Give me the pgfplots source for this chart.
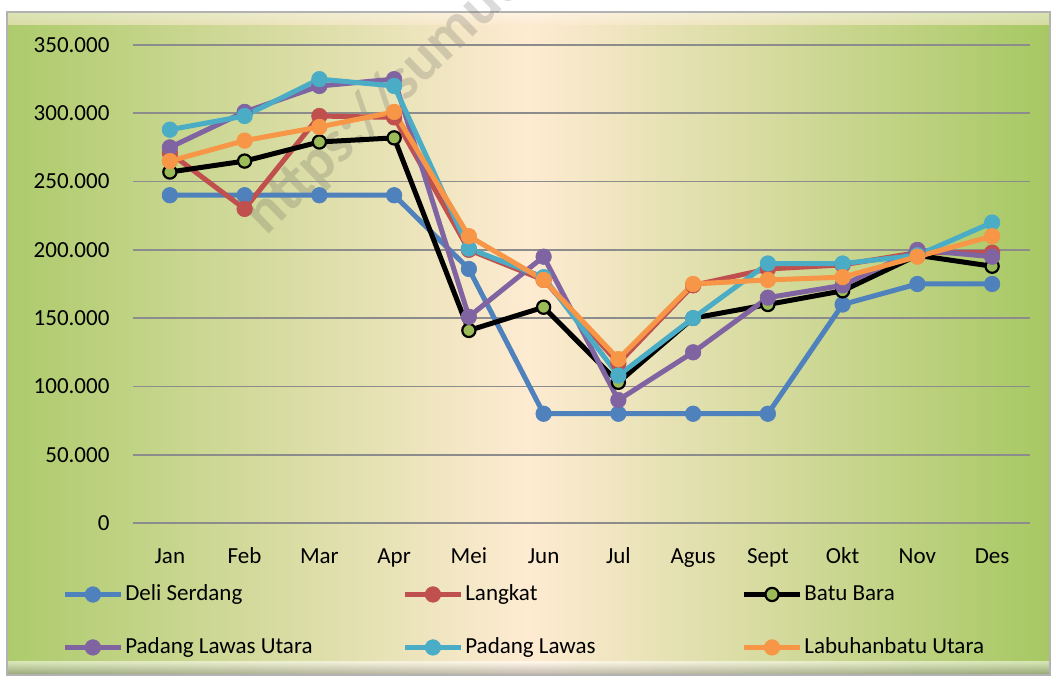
\documentclass[border=0pt]{standalone}
\usepackage{pgfplots}
\pgfplotsset{compat=1.18}
\usepackage{fontspec}
\setmainfont{Carlito}
\definecolor{cDeli}{HTML}{4F81BD}
\definecolor{cLang}{HTML}{C0504D}
\definecolor{cBatu}{HTML}{9BBB59}
\definecolor{cPLU}{HTML}{8064A2}
\definecolor{cPL}{HTML}{4BACC6}
\definecolor{cLab}{HTML}{F79646}
\definecolor{gEdgeL}{HTML}{ADCB6C}
\definecolor{gEdgeR}{HTML}{A6C862}
\definecolor{gMid}{HTML}{FEEBD2}
\definecolor{gridc}{HTML}{8C8C8C}
\begin{document}
\begin{tikzpicture}
\begin{scope}[x=0.5pt,y=0.5pt]
\path[use as bounding box] (0,0) rectangle (1056,680);
\shade[left color=gEdgeL, right color=gEdgeR, middle color=gMid] (7,5) rectangle (1050,668);
\shade[top color=white!70!gMid, bottom color=gMid, opacity=0.55] (7,655) rectangle (1050,668);
\shade[top color=black!0, bottom color=black!50, opacity=0.5] (7,5) rectangle (1050,18);
\draw[gray!60, line width=0.6pt] (7,5) rectangle (1050,668);
\begin{scope}
\clip (0,0) rectangle (1056,680);
\node[rotate=44, text=gray!70!black, opacity=0.22, font=\fontsize{30}{32}\selectfont\bfseries, anchor=west] at (250,450) {https://sumut};
\end{scope}
\end{scope}
\begin{axis}[
  at={(66.25pt,78.5pt)}, anchor=south west,
  scale only axis, width=448.5pt, height=239pt,
  xmin=-0.5, xmax=11.5, ymin=0, ymax=350000,
  axis line style={draw=none}, tick style={draw=none},
  ymajorgrids, major grid style={gridc, line width=0.8pt},
  xtick={0,...,11},
  xticklabels={Jan,Feb,Mar,Apr,Mei,Jun,Jul,Agus,Sept,Okt,Nov,Des},
  ytick={0,50000,100000,150000,200000,250000,300000,350000},
  yticklabels={0,50.000,100.000,150.000,200.000,250.000,300.000,350.000},
  scaled y ticks=false,
  ticklabel style={font=\fontsize{11.5}{13}\selectfont, text=black},
  yticklabel style={anchor=east, xshift=-8pt},
  xticklabel style={anchor=center, yshift=-17.5pt, text height=1.6ex, text depth=0.4ex},
  clip=false,
  legend columns=3,
  legend cell align=left,
  legend style={draw=none, fill=none, inner sep=0pt, outer sep=0pt,
    at={(axis description cs:0,0)}, anchor=north west, xshift=-35pt, yshift=-29pt,
    font=\fontsize{11.5}{13}\selectfont, row sep=13pt,
    nodes={inner xsep=1pt},
    /tikz/column 2/.style={column sep=44pt},
    /tikz/column 4/.style={column sep=72pt}},
  legend image code/.code={\draw[mark repeat=2, mark phase=2] plot coordinates {(0cm,0cm)(0.49cm,0cm)(0.98cm,0cm)};},
  every axis plot/.append style={line width=2.5pt, mark=*, mark size=3.9pt},
]
\addplot[cDeli, mark options={solid, line width=0.3pt, fill=cDeli, draw=cDeli}] coordinates {(0,240000)(1,240000)(2,240000)(3,240000)(4,186000)(5,80000)(6,80000)(7,80000)(8,80000)(9,160000)(10,175000)(11,175000)};
\addlegendentry{Deli Serdang}
\addplot[cLang, mark options={solid, line width=0.3pt, fill=cLang, draw=cLang}] coordinates {(0,271000)(1,230000)(2,298000)(3,297000)(4,200000)(5,178000)(6,117000)(7,174000)(8,186000)(9,189000)(10,198000)(11,198000)};
\addlegendentry{Langkat}
\addplot[black, mark options={solid, fill=cBatu, draw=black, line width=1.1pt}, mark size=3.3pt] coordinates {(0,257000)(1,265000)(2,279000)(3,282000)(4,141000)(5,158000)(6,103000)(7,150000)(8,160000)(9,170000)(10,196000)(11,188000)};
\addlegendentry{Batu Bara}
\addplot[cPLU, mark options={solid, line width=0.3pt, fill=cPLU, draw=cPLU}] coordinates {(0,275000)(1,301000)(2,320000)(3,325000)(4,151000)(5,195000)(6,90000)(7,125000)(8,165000)(9,174000)(10,200000)(11,195000)};
\addlegendentry{Padang Lawas Utara}
\addplot[cPL, mark options={solid, line width=0.3pt, fill=cPL, draw=cPL}] coordinates {(0,288000)(1,298000)(2,325000)(3,320000)(4,201000)(5,180000)(6,108000)(7,150000)(8,190000)(9,190000)(10,196000)(11,220000)};
\addlegendentry{Padang Lawas}
\addplot[cLab, mark options={solid, line width=0.3pt, fill=cLab, draw=cLab}] coordinates {(0,265000)(1,280000)(2,290000)(3,301000)(4,210000)(5,178000)(6,120000)(7,175000)(8,178000)(9,180000)(10,195000)(11,210000)};
\addlegendentry{Labuhanbatu Utara}
\end{axis}
\end{tikzpicture}
\end{document}
